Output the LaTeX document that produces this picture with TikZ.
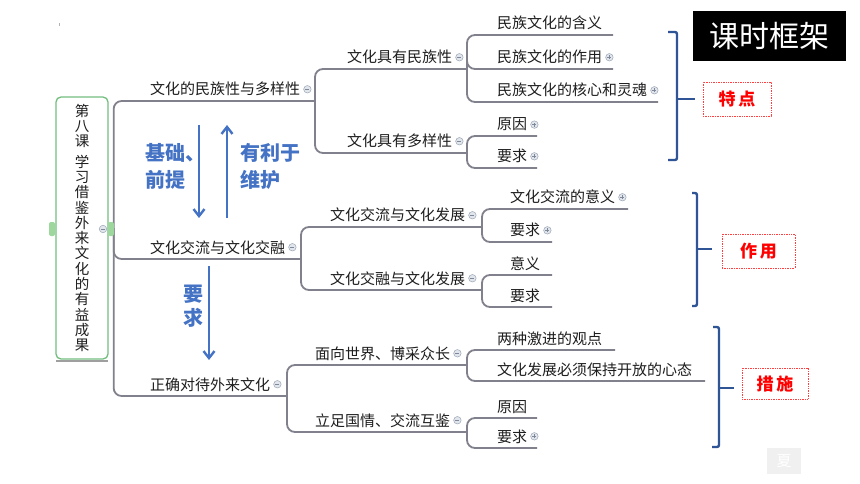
\documentclass[tikz,border=0pt]{standalone}
\usepackage{fontspec}
\setmainfont{Noto Sans CJK SC}
\usetikzlibrary{arrows.meta,calc}
\definecolor{brgray}{HTML}{80818C}
\definecolor{txt}{HTML}{1E1E1E}
\definecolor{arrblue}{HTML}{4472C4}
\definecolor{brnavy}{HTML}{2F5597}
\definecolor{rootgreen}{HTML}{72BE7F}
\definecolor{tabgreen}{HTML}{9ED79E}
\definecolor{iconfill}{HTML}{E2E6EC}
\definecolor{icondraw}{HTML}{9AA6B6}
\definecolor{iconbar}{HTML}{7D8899}
\begin{document}
\begin{tikzpicture}[x=1pt,y=-1pt,
  topic/.style={anchor=base west, inner sep=0pt, text=txt, font=\fontsize{15}{18}\selectfont},
  br/.style={draw=brgray, line width=1.8pt, rounded corners=8pt},
  iconm/.style={circle, draw=icondraw, fill=iconfill, line width=0.5pt, minimum size=7.5pt, inner sep=0pt,
    path picture={\draw[iconbar, line width=1pt] ([xshift=-2pt]path picture bounding box.center) -- ([xshift=2pt]path picture bounding box.center);}},
  iconp/.style={circle, draw=icondraw, fill=iconfill, line width=0.5pt, minimum size=7.5pt, inner sep=0pt,
    path picture={\draw[iconbar, line width=1pt] ([xshift=-2pt]path picture bounding box.center) -- ([xshift=2pt]path picture bounding box.center);
                  \draw[iconbar, line width=1pt] ([yshift=-2pt]path picture bounding box.center) -- ([yshift=2pt]path picture bounding box.center);}},
  bluet/.style={text=arrblue, font=\bfseries\fontsize{20}{27}\selectfont, align=left, inner sep=0pt},
  barr/.style={draw=arrblue, line width=2.4pt, -{Straight Barb[length=7pt,width=11pt]}},
  lab/.style={draw=red!75, densely dotted, line width=0.7pt, fill=white, text=red, font=\bfseries\fontsize{17}{20}\selectfont, inner sep=0pt, minimum height=34pt},
  brk/.style={draw=brnavy, line width=2.4pt, rounded corners=2pt},
  tab/.style={fill=tabgreen, rounded corners=2pt, minimum width=6pt, minimum height=14pt, inner sep=0pt}
]
\useasboundingbox (0,0) rectangle (860,484);
\fill[white] (0,0) rectangle (860,484);
\fill[gray!60] (58.5,23.5) rectangle (59.5,26.5);

% root
\node[draw=rootgreen, line width=1.3pt, rounded corners=5pt, fill=white, minimum width=52pt, minimum height=262pt,
      inner sep=0pt, align=center, text=txt, font=\fontsize{14.5}{15.3}\selectfont] (root) at (82,228)
      {第\\八\\课\\[5pt]学\\习\\借\\鉴\\外\\来\\文\\化\\的\\有\\益\\成\\果};
\draw[gray!75, line width=1.6pt] ([xshift=1pt,yshift=-1.2pt]root.south west) -- ([xshift=-1pt,yshift=-1.2pt]root.south east);
\coordinate (j0) at ([xshift=5pt]root.east);

% level 1 ends
\coordinate (a1e) at (315,101);
\coordinate (a2e) at (301,259);
\coordinate (a3e) at (287,396);
% level 2 ends
\coordinate (b1e) at (467,69);
\coordinate (b2e) at (467,153);
\coordinate (b3e) at (482,227);
\coordinate (b4e) at (482,290);
\coordinate (b5e) at (467,365);
\coordinate (b6e) at (467,432);
% level 3 ends
\coordinate (c1e) at (613,35);
\coordinate (c2e) at (613,69);
\coordinate (c3e) at (658,102);
\coordinate (c4e) at (537,136);
\coordinate (c5e) at (537,168);
\coordinate (c6e) at (628,209);
\coordinate (c7e) at (552,242);
\coordinate (c8e) at (552,275);
\coordinate (c9e) at (552,307);
\coordinate (c10e) at (615,350);
\coordinate (c11e) at (705,381);
\coordinate (c12e) at (537,418);
\coordinate (c13e) at (537,448);

% connectors
\draw[br] (j0) |- (a1e);
\draw[br] (j0) |- (a2e);
\draw[br] (j0) |- (a3e);
\draw[br] (a1e) |- (b1e);
\draw[br] (a1e) |- (b2e);
\draw[br] (a2e) |- (b3e);
\draw[br] (a2e) |- (b4e);
\draw[br] (a3e) |- (b5e);
\draw[br] (a3e) |- (b6e);
\draw[br] (b1e) |- (c1e);
\draw[br] (b1e) |- (c2e);
\draw[br] (b1e) |- (c3e);
\draw[br] (b2e) |- (c4e);
\draw[br] (b2e) |- (c5e);
\draw[br] (b3e) |- (c6e);
\draw[br] (b3e) |- (c7e);
\draw[br] (b4e) |- (c8e);
\draw[br] (b4e) |- (c9e);
\draw[br] (b5e) |- (c10e);
\draw[br] (b5e) |- (c11e);
\draw[br] (b6e) |- (c12e);
\draw[br] (b6e) |- (c13e);

% root tabs
\node[tab] (tabl) at (52,229) {};
\node[tab] (tabr) at (111,229) {};
\node[iconm] (rooti) at (103,229) {};

% level 1 topics
\node[topic] (a1) at (150,95) {文化的民族性与多样性};
\node[topic] (a2) at (150,253) {文化交流与文化交融};
\node[topic] (a3) at (150,390) {正确对待外来文化};
\node[iconm] (a1i) at ([xshift=7pt]a1.east) {};
\node[iconm] (a2i) at ([xshift=7pt]a2.east) {};
\node[iconm] (a3i) at ([xshift=7pt]a3.east) {};

% level 2 topics
\node[topic] (b1) at (347,63) {文化具有民族性};
\node[topic] (b2) at (347,147) {文化具有多样性};
\node[topic] (b3) at (330,221) {文化交流与文化发展};
\node[topic] (b4) at (330,284) {文化交融与文化发展};
\node[topic] (b5) at (315,359) {面向世界、博采众长};
\node[topic] (b6) at (315,426) {立足国情、交流互鉴};
\foreach \n in {b1,b2,b3,b4,b5,b6} {\node[iconm] (\n i) at ([xshift=7pt]\n.east) {};}

% level 3 topics
\node[topic] (c1) at (497,29) {民族文化的含义};
\node[topic] (c2) at (497,63) {民族文化的作用};
\node[topic] (c3) at (497,96) {民族文化的核心和灵魂};
\node[topic] (c4) at (497,130) {原因};
\node[topic] (c5) at (497,162) {要求};
\node[topic] (c6) at (510,203) {文化交流的意义};
\node[topic] (c7) at (510,236) {要求};
\node[topic] (c8) at (510,269) {意义};
\node[topic] (c9) at (510,301) {要求};
\node[topic] (c10) at (497,344) {两种激进的观点};
\node[topic] (c11) at (497,375) {文化发展必须保持开放的心态};
\node[topic] (c12) at (497,412) {原因};
\node[topic] (c13) at (497,442) {要求};
\foreach \n in {c2,c3,c4,c5,c6,c7,c13} {\node[iconp] (\n i) at ([xshift=7pt]\n.east) {};}

% blue arrows and texts
\coordinate (d1s) at (199,125);
\coordinate (d1e) at (199,218);
\coordinate (d2s) at (227,218);
\coordinate (d2e) at (227,125);
\coordinate (d3s) at (209,266);
\coordinate (d3e) at (209,360);
\draw[barr] (d1s) -- (d1e);
\draw[barr] (d2s) -- (d2e);
\draw[barr] (d3s) -- (d3e);
\node[bluet, anchor=west] (t1) at (145,166.5) {基础、\\前提};
\node[bluet, anchor=west] (t2) at (240,166.5) {有利于\\维护};
\node[bluet, align=center, font=\bfseries\fontsize{20}{24}\selectfont] (t3) at (193,306.5) {要\\求};

% title box
\node[fill=black, text=white, minimum width=153pt, minimum height=50pt, inner sep=0pt, font=\fontsize{30}{34}\selectfont] (kh) at (769.5,36) {课时框架};

% brackets
\draw[brk] (668,32) -- (677,32) -- (677,160) -- (668,160);
\draw[brk] (692,193) -- (697,193) -- (697,306) -- (692,306);
\draw[brk] (713,327) -- (719,327) -- (719,447) -- (712,447);
\coordinate (m1) at (677,99);
\coordinate (m2) at (697,249);
\coordinate (m3) at (719,388);
\coordinate (m1e) at (695,99);
\coordinate (m2e) at (712,249);
\coordinate (m3e) at (734,388);
\draw[brk] (m1) -- (m1e);
\draw[brk] (m2) -- (m2e);
\draw[brk] (m3) -- (m3e);

% red labels
\node[lab, minimum width=68pt] (l1) at (737,99) {特\kern3pt 点};
\node[lab, minimum width=73pt] (l2) at (758.5,251) {作\kern3pt 用};
\node[lab, minimum width=66pt, minimum height=31pt] (l3) at (775,383.5) {措\kern3pt 施};

% page badge
\node[fill=gray!12, text=white, minimum width=34pt, minimum height=26pt, inner sep=0pt, font=\fontsize{15}{18}\selectfont] (xia) at (784,461) {夏};
\end{tikzpicture}
\end{document}
